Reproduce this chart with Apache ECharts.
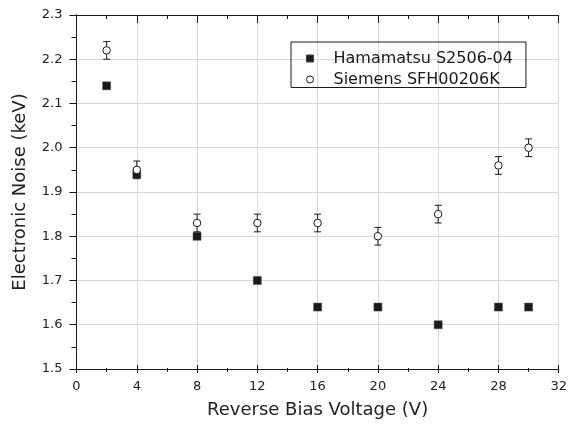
<!DOCTYPE html>
<html>
<head>
<meta charset="utf-8">
<script src="https://cdn.jsdelivr.net/npm/echarts@6/dist/echarts.min.js"></script>
<style>
html,body{margin:0;padding:0;background:#fff;}
#chart{width:570px;height:424px;}
</style>
</head>
<body>
<div id="chart"></div>
<script>
// ---- data ----
var voltages = [2, 4, 8, 12, 16, 20, 24, 28, 30];
var hamamatsuNoise = [2.14, 1.94, 1.80, 1.70, 1.64, 1.64, 1.60, 1.64, 1.64];
var hamamatsuErr = [0.005, 0.005, 0.005, 0.005, 0.005, 0.005, 0.005, 0.005, 0.005];
var siemensNoise = [2.22, 1.95, 1.83, 1.83, 1.83, 1.80, 1.85, 1.96, 2.00];
var siemensErr = [0.02, 0.02, 0.02, 0.02, 0.02, 0.02, 0.02, 0.02, 0.02];
var seriesNames = ['Hamamatsu S2506-04', 'Siemens SFH00206K'];
var xTicks = [0, 4, 8, 12, 16, 20, 24, 28, 32];
var yTicks = ['1.5', '1.6', '1.7', '1.8', '1.9', '2.0', '2.1', '2.2', '2.3'];

var FONT = 'DejaVu Sans';
var INK = '#1a1a1a';

function pts(ys) { return voltages.map(function (v, i) { return [v, ys[i]]; }); }
function errs(ys, es) { return voltages.map(function (v, i) { return [v, ys[i] - es[i], ys[i] + es[i]]; }); }

function errorRender(params, api) {
  var x = api.value(0);
  var lo = api.coord([x, api.value(1)]);
  var hi = api.coord([x, api.value(2)]);
  var hw = 3.5;
  var st = { stroke: INK, lineWidth: 1, fill: null };
  return {
    type: 'group',
    children: [
      { type: 'line', shape: { x1: lo[0], y1: lo[1], x2: hi[0], y2: hi[1] }, style: st },
      { type: 'line', shape: { x1: lo[0] - hw, y1: lo[1], x2: lo[0] + hw, y2: lo[1] }, style: st },
      { type: 'line', shape: { x1: hi[0] - hw, y1: hi[1], x2: hi[0] + hw, y2: hi[1] }, style: st }
    ]
  };
}

var xMin = xTicks[0], xMax = xTicks[xTicks.length - 1], xStep = xTicks[1] - xTicks[0];
var yMin = parseFloat(yTicks[0]), yMax = parseFloat(yTicks[yTicks.length - 1]);

var axisLine = { show: true, lineStyle: { color: INK, width: 1 } };
var gridLine = { show: true, lineStyle: { color: '#d8d8d8', width: 1 } };

var chart = echarts.init(document.getElementById('chart'), null, { renderer: 'canvas' });
chart.setOption({
  animation: false,
  backgroundColor: '#fff',
  textStyle: { fontFamily: FONT },
  grid: { left: 76.5, right: 10, top: 15, bottom: 52, containLabel: false },
  legend: {
    orient: 'vertical',
    left: 291, top: 42,
    padding: [8.5, 13, 0, 15],
    itemGap: 5,
    itemWidth: 7, itemHeight: 7,
    borderColor: INK, borderWidth: 1,
    itemStyle: { borderWidth: 1 },
    textStyle: { fontFamily: FONT, fontSize: 16, color: INK, padding: [0, 0, 0, 15] },
    data: seriesNames
  },
  xAxis: [
    {
      type: 'value', position: 'bottom', min: xMin, max: xMax, interval: xStep,
      axisLine: axisLine,
      axisTick: { show: true, inside: false, length: 4, lineStyle: { color: INK } },
      minorTick: { show: true, splitNumber: 2, length: 3, lineStyle: { color: INK } },
      splitLine: gridLine,
      axisLabel: { margin: 11, fontFamily: FONT, fontSize: 13, color: '#222' },
      name: 'Reverse Bias Voltage (V)', nameLocation: 'middle', nameGap: 32,
      nameTextStyle: { fontFamily: FONT, fontSize: 18, color: '#222' }
    },
    {
      type: 'value', position: 'bottom', min: xMin, max: xMax, interval: xStep,
      axisLine: axisLine,
      axisTick: { show: true, inside: true, length: 4, lineStyle: { color: INK } },
      minorTick: { show: true, splitNumber: 2, length: 1, lineStyle: { color: INK } },
      splitLine: { show: false }, axisLabel: { show: false }
    },
    {
      type: 'value', position: 'top', min: xMin, max: xMax, interval: xStep,
      axisLine: axisLine,
      axisTick: { show: true, inside: true, length: 8, lineStyle: { color: INK } },
      minorTick: { show: true, splitNumber: 2, length: 4, lineStyle: { color: INK } },
      splitLine: { show: false }, axisLabel: { show: false }
    }
  ],
  yAxis: [
    {
      type: 'value', position: 'left', min: yMin, max: yMax, interval: 0.1,
      axisLine: axisLine,
      axisTick: { show: true, inside: false, length: 7, lineStyle: { color: INK } },
      minorTick: { show: true, splitNumber: 2, length: 4, lineStyle: { color: INK } },
      splitLine: gridLine,
      axisLabel: {
        margin: 14, fontFamily: FONT, fontSize: 13, color: '#222',
        formatter: function (v) { return yTicks[Math.round((v - yMin) * 10)]; }
      },
      name: 'Electronic Noise (keV)', nameLocation: 'middle', nameGap: 47,
      nameTextStyle: { fontFamily: FONT, fontSize: 18, color: '#222' }
    },
    {
      type: 'value', position: 'right', min: yMin, max: yMax, interval: 0.1,
      axisLine: axisLine,
      axisTick: { show: true, inside: true, length: 5, lineStyle: { color: INK } },
      minorTick: { show: true, splitNumber: 2, length: 5, lineStyle: { color: INK } },
      splitLine: { show: false }, axisLabel: { show: false }
    }
  ],
  series: [
    {
      type: 'custom', name: 'hErr', xAxisIndex: 0, yAxisIndex: 0, z: 2,
      renderItem: errorRender, data: errs(hamamatsuNoise, hamamatsuErr), silent: true
    },
    {
      type: 'custom', name: 'sErr', xAxisIndex: 0, yAxisIndex: 0, z: 2,
      renderItem: errorRender, data: errs(siemensNoise, siemensErr), silent: true
    },
    {
      type: 'scatter', name: seriesNames[0], xAxisIndex: 0, yAxisIndex: 0, z: 3,
      symbol: 'rect', symbolSize: 8,
      itemStyle: { color: INK, borderColor: '#444', borderWidth: 0.5, opacity: 1 },
      data: pts(hamamatsuNoise)
    },
    {
      type: 'scatter', name: seriesNames[1], xAxisIndex: 0, yAxisIndex: 0, z: 3,
      symbol: 'circle', symbolSize: 7.5,
      itemStyle: { color: '#fff', borderColor: INK, borderWidth: 1, opacity: 1 },
      data: pts(siemensNoise)
    }
  ]
});
</script>
</body>
</html>
